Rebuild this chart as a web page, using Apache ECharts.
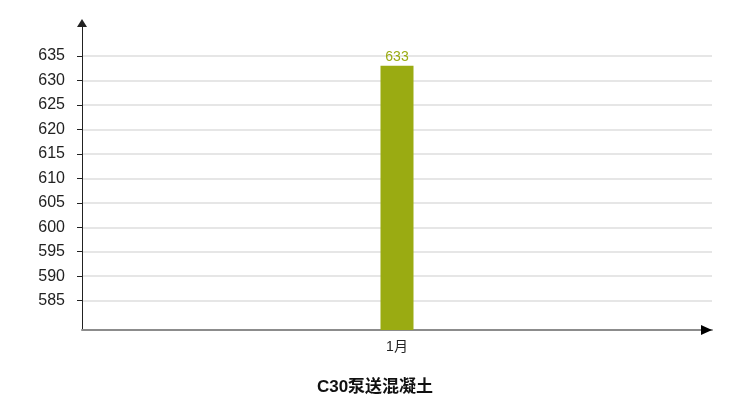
<!DOCTYPE html>
<html>
<head>
<meta charset="utf-8">
<script src="https://cdn.jsdelivr.net/npm/echarts@6/dist/echarts.min.js"></script>
<style>html,body{margin:0;padding:0;background:#fff}#c{width:750px;height:409px}</style>
</head>
<body>
<div id="c"></div>
<script>
var categories = ['1月'];
var values = [633];
var yTicks = [585, 590, 595, 600, 605, 610, 615, 620, 625, 630, 635];
var titleText = 'C30泵送混凝土';

var chart = echarts.init(document.getElementById('c'), null, {renderer: 'canvas'});
var font = 'Arial, "Liberation Sans", "Noto Sans CJK SC", sans-serif';
chart.setOption({
  animation: false,
  backgroundColor: '#fff',
  title: {
    text: titleText,
    left: 'center',
    top: 374,
    textStyle: {fontSize: 17, fontWeight: 'bold', color: '#111', fontFamily: font}
  },
  grid: {left: 82, right: 38, top: 23, bottom: 79, containLabel: false},
  xAxis: [{
    type: 'category',
    data: categories,
    axisLine: {show: true, onZero: false, lineStyle: {color: '#8c8c8c', width: 2}},
    axisTick: {show: false},
    axisLabel: {fontSize: 14, color: '#222', margin: 10, fontFamily: font},
    splitLine: {show: false}
  }, {
    type: 'category',
    data: categories,
    position: 'bottom',
    axisLine: {show: true, onZero: false, symbol: ['none', 'triangle'], symbolSize: [10, 11], symbolOffset: [0, -5.5], lineStyle: {color: '#000', width: 0}},
    axisTick: {show: false},
    axisLabel: {show: false},
    splitLine: {show: false}
  }],
  yAxis: {
    type: 'value',
    min: 579,
    max: 641.76,
    axisLine: {show: true, symbol: ['none', 'triangle'], symbolSize: [10, 8], lineStyle: {color: '#222', width: 1}},
    axisTick: {show: true, length: 5, customValues: yTicks, lineStyle: {color: '#222'}},
    axisLabel: {customValues: yTicks, fontSize: 16, color: '#222', margin: 17, fontFamily: font},
    splitLine: {show: true, lineStyle: {color: '#e6e6e6', width: 2}}
  },
  series: [{
    type: 'bar',
    data: values,
    barWidth: 33,
    itemStyle: {color: '#9aab12'},
    label: {show: true, position: 'top', distance: 2, color: '#9aab12', fontSize: 14, fontFamily: font}
  }]
});
</script>
</body>
</html>
